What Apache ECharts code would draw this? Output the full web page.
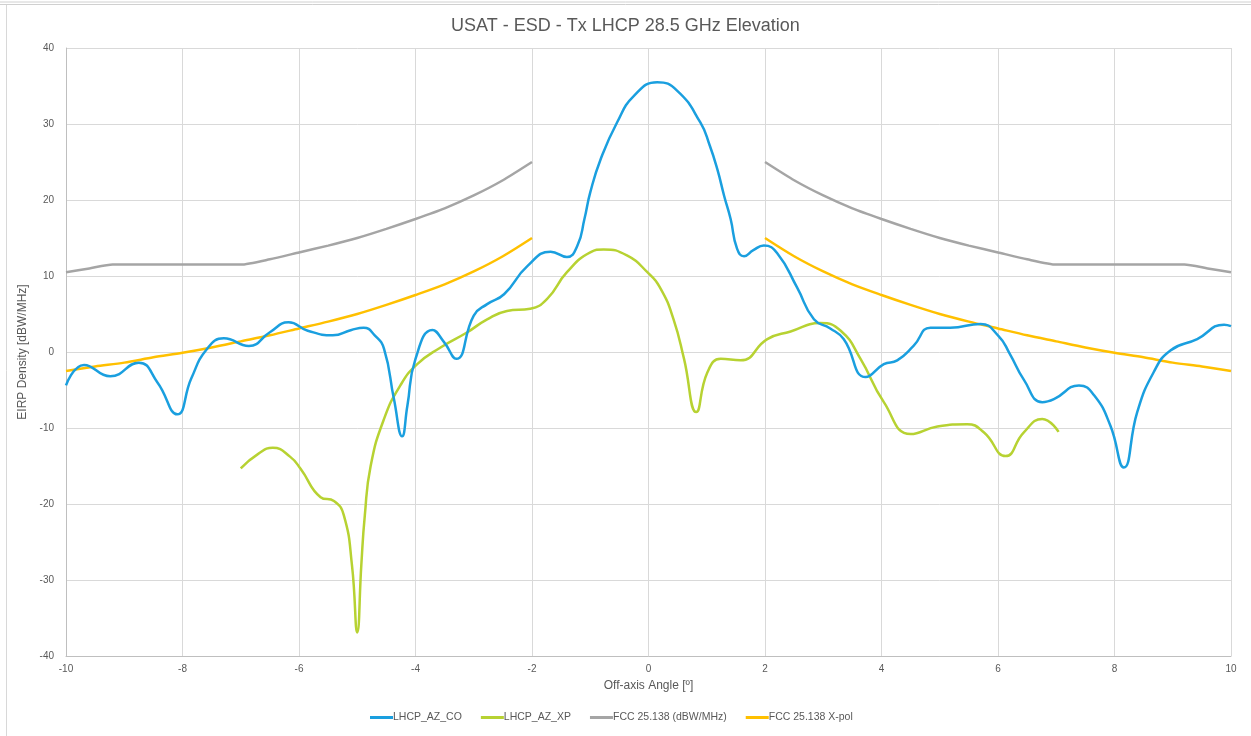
<!DOCTYPE html>
<html>
<head>
<meta charset="utf-8">
<script src="https://cdn.jsdelivr.net/npm/echarts@6/dist/echarts.min.js"></script>
<style>
html,body{margin:0;padding:0;background:#fff;}
#chart{width:1251px;height:736px;}
</style>
</head>
<body>
<div id="chart"></div>
<script>
// ---- Data ----
const titleText = 'USAT - ESD - Tx LHCP 28.5 GHz Elevation';
const seriesNames = ['LHCP_AZ_CO', 'LHCP_AZ_XP', 'FCC 25.138 (dBW/MHz)', 'FCC 25.138 X-pol'];
const xTicks = [-10, -8, -6, -4, -2, 0, 2, 4, 6, 8, 10];
const yTicks = [-40, -30, -20, -10, 0, 10, 20, 30, 40];

// LHCP_AZ_CO  [angle, EIRP density]
const coX = [-10, -9.69, -9.24, -8.75, -8.43, -8.09, -7.85, -7.58, -7.29, -6.86, -6.50, -6.18, -5.85, -5.42, -5.10, -4.89, -4.70, -4.54, -4.37, -4.23, -4.14, -4.00, -3.71, -3.51, -3.30, -3.00, -2.77, -2.48, -2.08, -1.68, -1.40, -1.22, -1.10, -1.00, -0.82, -0.54, -0.25, 0.15, 0.49, 0.89, 1.05, 1.18, 1.30, 1.41, 1.52, 1.64, 1.80, 1.98, 2.21, 2.55, 2.84, 3.12, 3.35, 3.73, 4.04, 4.27, 4.55, 4.84, 5.18, 5.70, 6.01, 6.20, 6.44, 6.76, 6.96, 7.39, 7.65, 7.93, 8.16, 8.39, 8.67, 8.96, 9.42, 9.88, 10];
const coY = [-4.4, -1.7, -3.2, -1.4, -4.0, -8.2, -3.5, 0.4, 1.8, 0.8, 2.6, 3.9, 2.8, 2.2, 2.9, 3.2, 2.2, 0.4, -6.2, -11.1, -7.1, -0.9, 2.9, 1.3, -0.9, 4.8, 6.3, 7.6, 11.3, 13.2, 12.5, 14.0, 17.5, 21.0, 25.4, 30.2, 33.7, 35.5, 34.4, 30.2, 27.2, 24.1, 20.5, 17.5, 13.6, 12.6, 13.4, 14.0, 13.0, 8.5, 4.3, 3.1, 1.7, -3.3, -1.6, -1.1, 0.8, 3.2, 3.2, 3.7, 2.1, -0.2, -3.6, -6.6, -6.2, -4.4, -5.7, -9.7, -15.2, -7.9, -2.7, 0.2, 1.7, 3.6, 3.4];

// LHCP_AZ_XP
const xpX = [-7.00, -6.70, -6.45, -6.15, -5.97, -5.63, -5.40, -5.23, -5.09, -5.00, -4.93, -4.87, -4.77, -4.54, -4.26, -3.97, -3.57, -3.11, -2.77, -2.43, -2.03, -1.74, -1.40, -1.00, -0.77, -0.37, -0.02, 0.21, 0.43, 0.61, 0.82, 1.01, 1.24, 1.58, 2.04, 2.44, 2.95, 3.30, 3.64, 4.04, 4.50, 4.96, 5.47, 5.76, 6.13, 6.44, 6.76, 7.04];
const xpY = [-15.3, -13.4, -12.6, -13.8, -15.4, -19.1, -19.6, -21.5, -28.1, -36.9, -28.0, -21.5, -15.0, -8.8, -4.4, -1.6, 0.6, 2.6, 4.3, 5.4, 5.7, 7.0, 10.5, 13.1, 13.5, 12.7, 10.5, 8.3, 4.3, -0.9, -7.9, -2.7, -0.9, -1.1, 1.7, 2.7, 3.8, 2.8, -0.9, -6.6, -10.8, -9.8, -9.5, -10.6, -13.7, -10.6, -8.8, -10.5];

// FCC 25.138 co-pol mask (dBW/MHz), left and right branches
const fccAngles = [2, 2.5, 3, 3.5, 4, 4.5, 5, 5.5, 6, 6.5, 7, 7.5, 8, 8.5, 9, 9.2, 9.6, 10];
const fccValues = [25.0, 22.6, 20.6, 18.9, 17.5, 16.2, 15.0, 14.0, 13.1, 12.2, 11.5, 11.5, 11.5, 11.5, 11.5, 11.5, 11.0, 10.5];

// FCC 25.138 X-pol mask
const xpolAngles = [2, 2.5, 3, 3.5, 4, 4.5, 5, 5.5, 6, 6.5, 7, 7.5, 8, 8.5, 9, 9.5, 10];
const xpolValues = [15.0, 12.6, 10.6, 8.9, 7.5, 6.2, 5.0, 4.0, 3.1, 2.2, 1.4, 0.6, -0.1, -0.7, -1.4, -1.9, -2.5];

// ---- Build series data ----
function pairs(xs, ys) { return xs.map((x, i) => [x, ys[i]]); }
function mirrored(angles, vals) {
  const left = angles.map((a, i) => [-a, vals[i]]).reverse();
  const right = angles.map((a, i) => [a, vals[i]]);
  return left.concat([[0, '-']], right);
}

const colors = ['#1a9fdf', '#b7d232', '#a5a5a5', '#ffc000'];
const FONT = 'Liberation Sans, Arial, sans-serif';
const chart = echarts.init(document.getElementById('chart'));
const axisLabelStyle = { color: '#595959', fontSize: 10, fontFamily: FONT };

chart.setOption({
  animation: false,
  backgroundColor: '#fff',
  color: colors,
  title: {
    text: titleText, left: 'center', top: 12,
    textStyle: { color: '#595959', fontSize: 18, fontWeight: 'normal', fontFamily: FONT }
  },
  legend: {
    bottom: 8, left: 365,
    itemWidth: 23, itemHeight: 3, itemGap: 19, icon: 'rect',
    textStyle: { color: '#595959', fontSize: 10.5, fontFamily: FONT, padding: [0, 0, 0, -5] },
    data: seriesNames
  },
  grid: { left: 66, right: 20, top: 48, bottom: 80 },
  xAxis: {
    type: 'value', min: -10, max: 10, interval: 2,
    name: 'Off-axis Angle [º]', nameLocation: 'middle', nameGap: 24,
    nameTextStyle: { color: '#595959', fontSize: 12, fontFamily: FONT },
    axisLine: { show: true, onZero: false, lineStyle: { color: '#bfbfbf' } },
    axisTick: { show: false },
    axisLabel: Object.assign({ margin: 8, formatter: v => xTicks.includes(v) ? String(v) : '' }, axisLabelStyle),
    splitLine: { show: true, lineStyle: { color: '#d9d9d9' } }
  },
  yAxis: {
    type: 'value', min: -40, max: 40, interval: 10,
    name: 'EIRP Density [dBW/MHz]', nameLocation: 'middle', nameGap: 31, nameRotate: 90,
    nameTextStyle: { color: '#595959', fontSize: 12, fontFamily: FONT },
    axisLine: { show: true, onZero: false, lineStyle: { color: '#bfbfbf' } },
    axisTick: { show: false },
    axisLabel: Object.assign({ margin: 12, formatter: v => yTicks.includes(v) ? String(v) : '' }, axisLabelStyle),
    splitLine: { show: true, lineStyle: { color: '#d9d9d9' } }
  },
  graphic: [
    { type: 'line', shape: { x1: 0, y1: 2, x2: 1251, y2: 2 }, style: { stroke: '#d0d0d0', lineWidth: 1 } },
    { type: 'line', shape: { x1: 0, y1: 4.5, x2: 1251, y2: 4.5 }, style: { stroke: '#d0d0d0', lineWidth: 1 } },
    { type: 'line', shape: { x1: 6.5, y1: 5, x2: 6.5, y2: 736 }, style: { stroke: '#d8d8d8', lineWidth: 1 } }
  ],
  series: [
    { name: seriesNames[0], type: 'line', data: pairs(coX, coY), smooth: 0.5, showSymbol: false, lineStyle: { width: 2.5, color: colors[0] }, z: 4 },
    { name: seriesNames[1], type: 'line', data: pairs(xpX, xpY), smooth: 0.5, showSymbol: false, lineStyle: { width: 2.5, color: colors[1] }, z: 3 },
    { name: seriesNames[2], type: 'line', data: mirrored(fccAngles, fccValues), smooth: 0.2, showSymbol: false, connectNulls: false, lineStyle: { width: 2.5, color: colors[2] }, z: 2 },
    { name: seriesNames[3], type: 'line', data: mirrored(xpolAngles, xpolValues), smooth: 0.3, showSymbol: false, connectNulls: false, lineStyle: { width: 2.5, color: colors[3] }, z: 2 }
  ]
});
</script>
</body>
</html>
